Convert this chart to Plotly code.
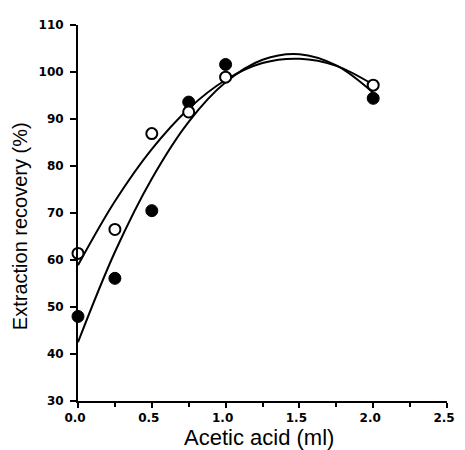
import plotly.graph_objects as go

# Data points
acid_x = [0.0, 0.25, 0.5, 0.75, 1.0, 2.0]
filled_y = [48.0, 56.1, 70.5, 93.6, 101.6, 94.4]
open_y = [61.4, 66.5, 86.9, 91.5, 98.9, 97.2]

# Fitted curves, points
curve_x = [0.0, 0.25, 0.5, 0.75, 1.0, 1.25, 1.5, 1.75, 2.0]
filled_curve_y = [42.5, 61.7, 77.3, 89.4, 97.8, 102.6, 103.8, 101.4, 95.6]
open_curve_y = [58.9, 72.5, 83.6, 92.2, 98.3, 101.9, 102.8, 101.3, 97.3]

x_ticks = [0.0, 0.5, 1.0, 1.5, 2.0, 2.5]
y_ticks = [30, 40, 50, 60, 70, 80, 90, 100, 110]

fig = go.Figure()
fig.add_trace(go.Scatter(x=curve_x, y=filled_curve_y, mode="lines",
                         line=dict(color="black", width=2, shape="spline"),
                         showlegend=False, hoverinfo="skip"))
fig.add_trace(go.Scatter(x=curve_x, y=open_curve_y, mode="lines",
                         line=dict(color="black", width=2, shape="spline"),
                         showlegend=False, hoverinfo="skip"))
fig.add_trace(go.Scatter(x=acid_x, y=filled_y, mode="markers",
                         marker=dict(symbol="circle", size=12, color="black",
                                     line=dict(color="black", width=1)),
                         showlegend=False, cliponaxis=False))
fig.add_trace(go.Scatter(x=acid_x, y=open_y, mode="markers",
                         marker=dict(symbol="circle", size=11, color="white",
                                     line=dict(color="black", width=2)),
                         showlegend=False, cliponaxis=False))

tickfont = dict(family="DejaVu Sans, sans-serif", size=12,
                color="black", weight="bold")
titlefont_x = dict(family="Liberation Sans, Arial, sans-serif", size=22,
                   color="black")
titlefont_y = dict(family="Liberation Sans, Arial, sans-serif", size=20,
                   color="black")

fig.update_layout(
    width=457, height=442,
    margin=dict(l=70, r=10, t=12, b=49),
    paper_bgcolor="white", plot_bgcolor="white",
    xaxis=dict(range=[0, 2.5], tickvals=x_ticks,
               ticktext=[f"{v:.1f}" for v in x_ticks],
               showgrid=False, zeroline=False,
               showline=True, linecolor="black", linewidth=2,
               ticks="outside", ticklen=5, tickwidth=2, tickcolor="black",
               minor=dict(dtick=0.25, tick0=0, ticks="outside", ticklen=4,
                          tickwidth=2, tickcolor="black", showgrid=False),
               ticklabeloverflow="allow", ticklabelshift=-3,
               tickfont=tickfont),
    yaxis=dict(range=[30, 110], tickvals=y_ticks,
               showgrid=False, zeroline=False,
               showline=True, linecolor="black", linewidth=2,
               ticks="outside", ticklen=6, tickwidth=2, tickcolor="black",
               ticklabelstandoff=4,
               tickfont=tickfont),
    annotations=[
        dict(text="Acetic acid (ml)", xref="paper", yref="paper",
             x=0.49, y=0, xanchor="center", yanchor="middle", yshift=-36,
             showarrow=False, font=titlefont_x),
        dict(text="Extraction recovery (%)", xref="paper", yref="paper",
             x=0, y=0.465, xanchor="center", yanchor="middle", xshift=-58,
             textangle=-90, showarrow=False, font=titlefont_y),
    ],
)

fig.write_html("out.html")
